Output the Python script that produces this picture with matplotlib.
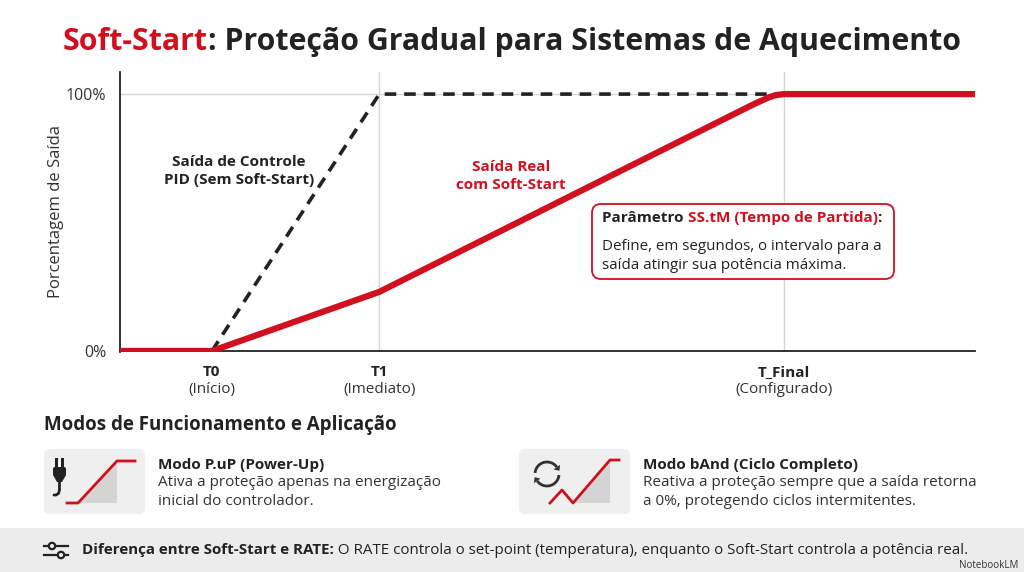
import matplotlib
matplotlib.use("Agg")
import matplotlib.pyplot as plt
from matplotlib.patches import FancyBboxPatch, Polygon, Rectangle, Circle
import numpy as np

RED = "#d0101f"
DARK = "#222222"
FONT = "Open Sans"

# data: time axis (arbitrary units), output in %
t_ticks = [1.0, 2.82, 7.22]
t_names = ["T0", "T1", "T_Final"]
t_notes = ["(Início)", "(Imediato)", "(Configurado)"]

pid_t = [1.0, 2.82, 9.3]
pid_out = [0, 100, 100]

soft_t = [0.0, 1.0, 2.82, 6.85, 6.95, 7.05, 7.13, 7.22, 9.3]
soft_out = [0, 0, 23, 95.3, 97.0, 98.6, 99.6, 100, 100]

y_ticks = [0, 100]
y_tick_labels = ["0%", "100%"]

plt.rcParams["font.family"] = [FONT, "DejaVu Sans"]

W, H = 1024, 572
fig = plt.figure(figsize=(W / 100, H / 100), dpi=100)
fig.patch.set_facecolor("white")


def px_box(l, t, r, b):
    return [l / W, 1 - b / H, (r - l) / W, (b - t) / H]


ax = fig.add_axes(px_box(120, 72, 975, 352))
ax.set_xlim(0, 9.3)
ax.set_ylim(-0.4, 108.6)
for s in ["top", "right"]:
    ax.spines[s].set_visible(False)
ax.spines["left"].set_color(DARK)
ax.spines["bottom"].set_color(DARK)
ax.spines["left"].set_linewidth(1.3)
ax.spines["bottom"].set_linewidth(1.3)
ax.spines["bottom"].set_position(("data", 0))

ax.axhline(100, color="#d6d6d6", lw=1, zorder=0)
for xv in t_ticks[1:]:
    ax.axvline(xv, color="#d6d6d6", lw=1, zorder=0)

ax.plot(pid_t, pid_out, color=DARK, lw=2.6, ls=(0, (3.2, 2.2)), zorder=3,
        solid_joinstyle="round")
ax.plot(soft_t, soft_out, color=RED, lw=4.5, zorder=4, solid_capstyle="butt",
        solid_joinstyle="round")

ax.set_yticks(y_ticks)
ax.set_yticklabels(y_tick_labels, fontsize=11.5, color="#333333")
ax.tick_params(axis="y", length=0, pad=10)
ax.set_xticks([])
ax.set_ylabel("Porcentagem de Saída", fontsize=12, color="#333333", labelpad=1)

for xv, nm, nt in zip(t_ticks, t_names, t_notes):
    ax.annotate(nm, (xv, 0), xytext=(0, -15), textcoords="offset points",
                ha="center", va="center", fontsize=11, fontweight="bold", color=DARK,
                annotation_clip=False)
    ax.annotate(nt, (xv, 0), xytext=(0, -28), textcoords="offset points",
                ha="center", va="center", fontsize=11, color="#333333",
                annotation_clip=False)

# overlay in pixel coords
ov = fig.add_axes([0, 0, 1, 1])
ov.set_xlim(0, W)
ov.set_ylim(H, 0)
ov.axis("off")
ov.patch.set_visible(False)

fig.canvas.draw()
rend = fig.canvas.get_renderer()


def text_w(txt):
    return txt.get_window_extent(renderer=rend).width


def run_text(x, y, parts, size, center=False, **kw):
    # parts: list of (string, color, weight)
    objs = []
    for s, c, w in parts:
        objs.append(ov.text(x, y, s, color=c, fontweight=w, fontsize=size,
                            va="center", ha="left", **kw))
    widths = [text_w(o) for o in objs]
    total = sum(widths)
    cx = x - total / 2 if center else x
    for o, wd in zip(objs, widths):
        o.set_x(cx)
        cx += wd
    return objs


# title
run_text(W / 2, 42, [("Soft-Start", RED, "bold"),
                     (": Proteção Gradual para Sistemas de Aquecimento", DARK, "bold")],
         21.8, center=True)

# chart annotations
ov.text(239, 171, "Saída de Controle\nPID (Sem Soft-Start)", ha="center", va="center",
        fontsize=11, fontweight="bold", color=DARK, linespacing=1.3)
ov.text(511, 176, "Saída Real\ncom Soft-Start", ha="center", va="center",
        fontsize=11, fontweight="bold", color=RED, linespacing=1.3)

box = FancyBboxPatch((592, 204), 302, 75, boxstyle="round,pad=0,rounding_size=9",
                     fc="white", ec=RED, lw=1.3, zorder=5)
ov.add_patch(box)
for o in run_text(602, 218, [("Parâmetro ", DARK, "bold"),
                             ("SS.tM (Tempo de Partida)", RED, "bold"),
                             (":", DARK, "bold")], 11):
    o.set_zorder(6)
ov.text(602, 256, "Define, em segundos, o intervalo para a\nsaída atingir sua potência máxima.",
        ha="left", va="center", fontsize=10.9, color=DARK, linespacing=1.3, zorder=6)

# bottom section
ov.text(44, 425, "Modos de Funcionamento e Aplicação", ha="left", va="center",
        fontsize=13.5, fontweight="bold", color=DARK)

for l, r in [(44, 145), (519, 630)]:
    ov.add_patch(FancyBboxPatch((l, 449), r - l, 65, boxstyle="round,pad=0,rounding_size=6",
                                fc="#efefef", ec="none"))

# plug icon
ov.add_patch(Rectangle((55, 458), 2.6, 10, fc=DARK, ec="none"))
ov.add_patch(Rectangle((61, 458), 2.6, 10, fc=DARK, ec="none"))
ov.add_patch(FancyBboxPatch((53, 467), 13, 9, boxstyle="round,pad=0,rounding_size=2",
                            fc=DARK, ec="none"))
ov.add_patch(Polygon([(53, 475), (66, 475), (62, 482), (57, 482)], fc=DARK, ec="none"))
ov.plot([59.5, 59.5, 58.5, 56, 54], [482, 490, 493.5, 495, 495], color=DARK, lw=2,
        solid_capstyle="round", solid_joinstyle="round")

ov.add_patch(Polygon([(78, 503), (117, 461), (117, 503)], fc="#d4d4d4", ec="none"))
ov.plot([67, 78, 117, 135], [503, 503, 461, 461], color=RED, lw=2)


# refresh icon (two clockwise arcs with arrowheads)
def arc_arrow(cx, cy, r, a0, a1):
    ang = np.radians(np.linspace(a0, a1, 30))
    ov.plot(cx + r * np.cos(ang), cy - r * np.sin(ang), color="#333333", lw=2,
            solid_capstyle="butt")
    a = np.radians(a1)
    ex, ey = cx + r * np.cos(a), cy - r * np.sin(a)
    tx, ty = np.sin(a), np.cos(a)
    nx, ny = np.cos(a), -np.sin(a)
    ov.add_patch(Polygon([(ex + 4.5 * tx, ey + 4.5 * ty),
                          (ex + 4 * nx, ey + 4 * ny),
                          (ex - 4 * nx, ey - 4 * ny)], fc="#333333", ec="none"))


arc_arrow(547, 474, 12, 175, 35)
arc_arrow(547, 474, 12, -5, -145)

ov.add_patch(Polygon([(573, 503), (610, 460), (610, 503)], fc="#d4d4d4", ec="none"))
ov.plot([550, 562, 573, 610, 619], [503, 490, 503, 460, 460], color=RED, lw=2)

ov.text(158, 465, "Modo P.uP (Power-Up)", ha="left", va="center", fontsize=11,
        fontweight="bold", color=DARK)
ov.text(158, 492, "Ativa a proteção apenas na energização\ninicial do controlador.",
        ha="left", va="center", fontsize=11, color="#333333", linespacing=1.3)
ov.text(643, 465, "Modo bAnd (Ciclo Completo)", ha="left", va="center", fontsize=11,
        fontweight="bold", color=DARK)
ov.text(643, 492, "Reativa a proteção sempre que a saída retorna\na 0%, protegendo ciclos intermitentes.",
        ha="left", va="center", fontsize=11, color="#333333", linespacing=1.3)

# footer band
ov.add_patch(Rectangle((0, 528), W, 44, fc="#ececec", ec="none"))
ov.plot([44, 68], [546, 546], color=DARK, lw=1.6)
ov.plot([44, 68], [555, 555], color=DARK, lw=1.6)
ov.add_patch(Circle((52, 546), 3.2, fc="#ececec", ec=DARK, lw=1.6, zorder=5))
ov.add_patch(Circle((61, 555), 3.2, fc="#ececec", ec=DARK, lw=1.6, zorder=5))
run_text(82, 550, [("Diferença entre Soft-Start e RATE:", DARK, "bold"),
                   (" O RATE controla o set-point (temperatura), enquanto o Soft-Start controla a potência real.",
                    DARK, "normal")], 10.9)
ov.text(1018, 565, "NotebookLM", ha="right", va="center", fontsize=7, color="#333333")

fig.savefig("out.png", dpi=100)
